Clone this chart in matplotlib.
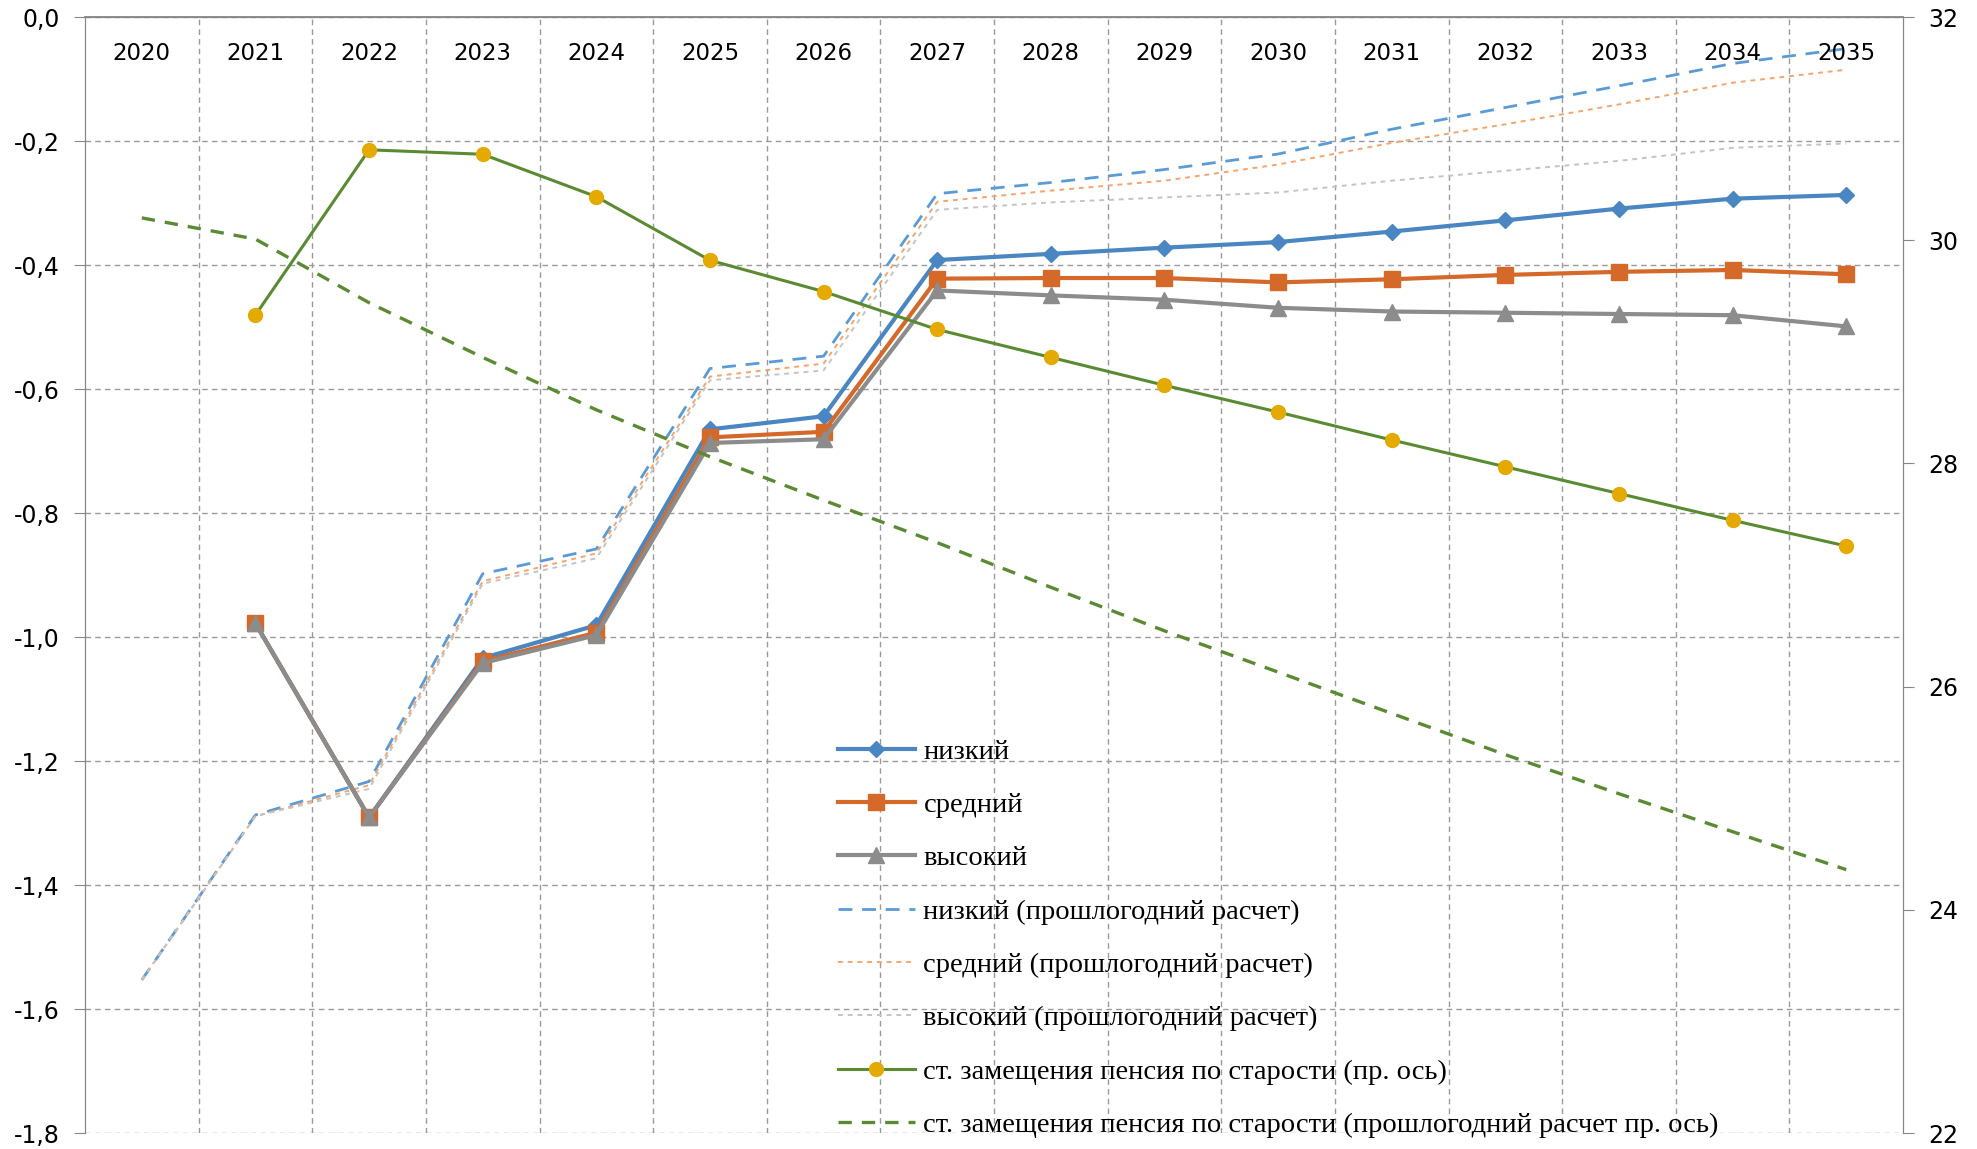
import numpy as np
import matplotlib
matplotlib.use("Agg")
import matplotlib.pyplot as plt
from matplotlib.ticker import FuncFormatter, MultipleLocator

nan = np.nan
years = ["2020", "2021", "2022", "2023", "2024", "2025", "2026", "2027",
         "2028", "2029", "2030", "2031", "2032", "2033", "2034", "2035"]

low = [nan, -0.978, -1.291, -1.034, -0.981, -0.665, -0.644, -0.392, -0.382,
       -0.372, -0.363, -0.346, -0.328, -0.309, -0.293, -0.287]
mid = [nan, -0.978, -1.291, -1.039, -0.993, -0.678, -0.669, -0.422, -0.421,
       -0.421, -0.428, -0.423, -0.416, -0.411, -0.408, -0.415]
high = [nan, -0.978, -1.291, -1.042, -0.997, -0.687, -0.681, -0.441, -0.449,
        -0.456, -0.469, -0.475, -0.477, -0.479, -0.481, -0.499]

low_prev = [-1.553, -1.287, -1.233, -0.898, -0.858, -0.567, -0.547, -0.285,
            -0.267, -0.246, -0.221, -0.181, -0.146, -0.111, -0.075, -0.051]
mid_prev = [-1.553, -1.289, -1.239, -0.910, -0.865, -0.580, -0.559, -0.298,
            -0.280, -0.264, -0.238, -0.203, -0.173, -0.141, -0.106, -0.085]
high_prev = [-1.553, -1.289, -1.245, -0.914, -0.873, -0.586, -0.570, -0.311,
             -0.299, -0.291, -0.283, -0.264, -0.248, -0.232, -0.211, -0.204]

# replacement rate, right axis
rate = [nan, 29.33, 30.81, 30.77, 30.39, 29.82, 29.54, 29.20, 28.95, 28.70,
        28.46, 28.21, 27.97, 27.73, 27.49, 27.26]
rate_prev = [30.20, 30.01, 29.44, 28.95, 28.48, 28.06, 27.67, 27.29, 26.89,
             26.50, 26.13, 25.76, 25.39, 25.04, 24.70, 24.36]

labels = ["низкий", "средний", "высокий",
          "низкий (прошлогодний расчет)",
          "средний (прошлогодний расчет)",
          "высокий (прошлогодний расчет)",
          "ст. замещения пенсия по старости (пр. ось)",
          "ст. замещения пенсия по старости (прошлогодний расчет пр. ось)"]

x = np.arange(len(years))
axis_gray = "#868686"
grid_gray = "#9a9a9a"

fig = plt.figure(figsize=(19.77, 11.49), dpi=100)
ax = fig.add_axes([0.043, 0.0139, 0.9196, 0.9713])
ax2 = ax.twinx()

h1, = ax.plot(x, low_prev, color="#5b9bd5", lw=2.0, dashes=(5, 3.5))
h2, = ax.plot(x, mid_prev, color="#f4a46c", lw=1.4, dashes=(2.5, 2.5))
h3, = ax.plot(x, high_prev, color="#c4c4c4", lw=1.4, dashes=(2.5, 2.5))
l1, = ax.plot(x, low, color="#4a86c2", lw=3, marker="D", ms=8.5)
l2, = ax.plot(x, mid, color="#d4692a", lw=3, marker="s", ms=11)
l3, = ax.plot(x, high, color="#8c8c8c", lw=3, marker="^", ms=11)

g2, = ax2.plot(x, rate_prev, color="#5a8a32", lw=2.4, dashes=(4, 3))
g1, = ax2.plot(x, rate, color="#5a8a32", lw=2.2, marker="o", ms=10,
               markerfacecolor="#e4aa00", markeredgecolor="#e4aa00")

ax.set_xlim(-0.5, len(years) - 0.5)
ax.set_ylim(-1.8, 0)
ax2.set_ylim(22, 32)

ax.yaxis.set_major_locator(MultipleLocator(0.2))
ax.yaxis.set_major_formatter(FuncFormatter(lambda v, p: f"{v:.1f}".replace(".", ",").replace("-0,0", "0,0")))
ax2.yaxis.set_major_locator(MultipleLocator(2))

ax.set_xticks(x)
ax.set_xticklabels([])
ax.set_xticks(x[:-1] + 0.5, minor=True)
ax.tick_params(axis="x", which="both", length=0)
ax.tick_params(axis="y", length=8, color=axis_gray, labelsize=17, pad=10)
ax2.tick_params(axis="y", length=8, color=axis_gray, labelsize=17, pad=10)

ax.grid(axis="y", which="major", color=grid_gray, lw=1, dashes=(4, 3))
ax.grid(axis="x", which="minor", color=grid_gray, lw=1, dashes=(4, 3))
ax.set_axisbelow(True)

for s in ["left", "right", "top"]:
    ax.spines[s].set_color(axis_gray)
    ax2.spines[s].set_color(axis_gray)
ax.spines["bottom"].set_visible(False)
ax2.spines["bottom"].set_visible(False)
ax.spines["top"].set_linewidth(1.3)

for i, yr in enumerate(years):
    ax.text(i, 1 - 36 / 1116, yr, transform=ax.get_xaxis_transform(),
            ha="center", va="center", fontsize=16.5)

leg = fig.legend([l1, l2, l3, h1, h2, h3, g1, g2], labels,
                 loc="upper left", bbox_to_anchor=(838 / 1977, 1 - 739 / 1149),
                 frameon=False, prop={"family": "Liberation Serif", "size": 20.5},
                 handlelength=2.7, handletextpad=0.3, labelspacing=0.96,
                 borderpad=0, borderaxespad=0)

fig.savefig("out.png", dpi=100)
